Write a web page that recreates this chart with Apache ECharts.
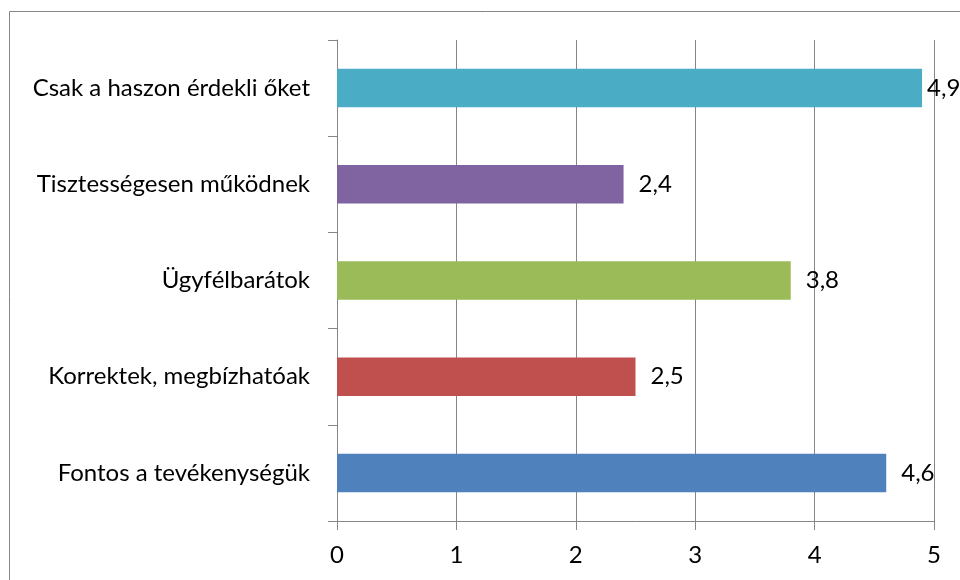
<!DOCTYPE html>
<html>
<head>
<meta charset="utf-8">
<script src="https://cdn.jsdelivr.net/npm/echarts@6/dist/echarts.min.js"></script>
<style>
  html, body { margin: 0; padding: 0; background: #fff; }
  #chart { width: 960px; height: 580px; }
</style>
</head>
<body>
<div id="chart"></div>
<script>
// Categories listed bottom to top (category axis order for horizontal bars)
const categories = [
  'Fontos a tevékenységük',
  'Korrektek, megbízhatóak',
  'Ügyfélbarátok',
  'Tisztességesen működnek',
  'Csak a haszon érdekli őket'
];
const values = [4.6, 2.5, 3.8, 2.4, 4.9];
const barColors = ['#4F81BD', '#C0504D', '#9BBB59', '#8064A2', '#4BACC6'];
const xTicks = [0, 1, 2, 3, 4, 5];

const FONT = 'Lato';
const FS = 24;
const GRAY = '#868686';

const chart = echarts.init(document.getElementById('chart'), null, { renderer: 'canvas' });

// Labels near the right edge sit closer to their bar so they stay in view
const seriesData = values.map((v, i) => ({
  value: v,
  itemStyle: { color: barColors[i] },
  label: { distance: v >= xTicks[xTicks.length - 1] - 0.15 ? 5 : 15 }
}));

chart.setOption({
  animation: false,
  backgroundColor: '#fff',
  graphic: [{
    type: 'rect',
    shape: { x: 9.5, y: 11.5, width: 1200, height: 1200 },
    style: { fill: 'none', stroke: GRAY, lineWidth: 1 },
    silent: true,
    z: -1
  }],
  grid: { left: 337, right: 26, top: 40, bottom: 59, containLabel: false },
  xAxis: {
    type: 'value',
    min: xTicks[0],
    max: xTicks[xTicks.length - 1],
    interval: 1,
    axisLine: { show: true, lineStyle: { color: GRAY, width: 1 } },
    axisTick: { show: true, length: 9, lineStyle: { color: GRAY } },
    splitLine: { show: true, lineStyle: { color: GRAY, width: 1 } },
    axisLabel: {
      margin: 22,
      color: '#000',
      fontFamily: FONT,
      fontSize: FS,
      formatter: v => String(v)
    }
  },
  yAxis: {
    type: 'category',
    data: categories,
    axisLine: { show: true, lineStyle: { color: GRAY, width: 1 } },
    axisTick: { show: true, length: 9, alignWithLabel: false, lineStyle: { color: GRAY } },
    axisLabel: {
      margin: 27,
      color: '#000',
      fontFamily: FONT,
      fontSize: FS
    }
  },
  series: [{
    type: 'bar',
    data: seriesData,
    barWidth: '40%',
    label: {
      show: true,
      position: 'right',
      color: '#000',
      fontFamily: FONT,
      fontSize: FS,
      formatter: p => String(p.value).replace('.', ',')
    }
  }]
});
</script>
</body>
</html>
